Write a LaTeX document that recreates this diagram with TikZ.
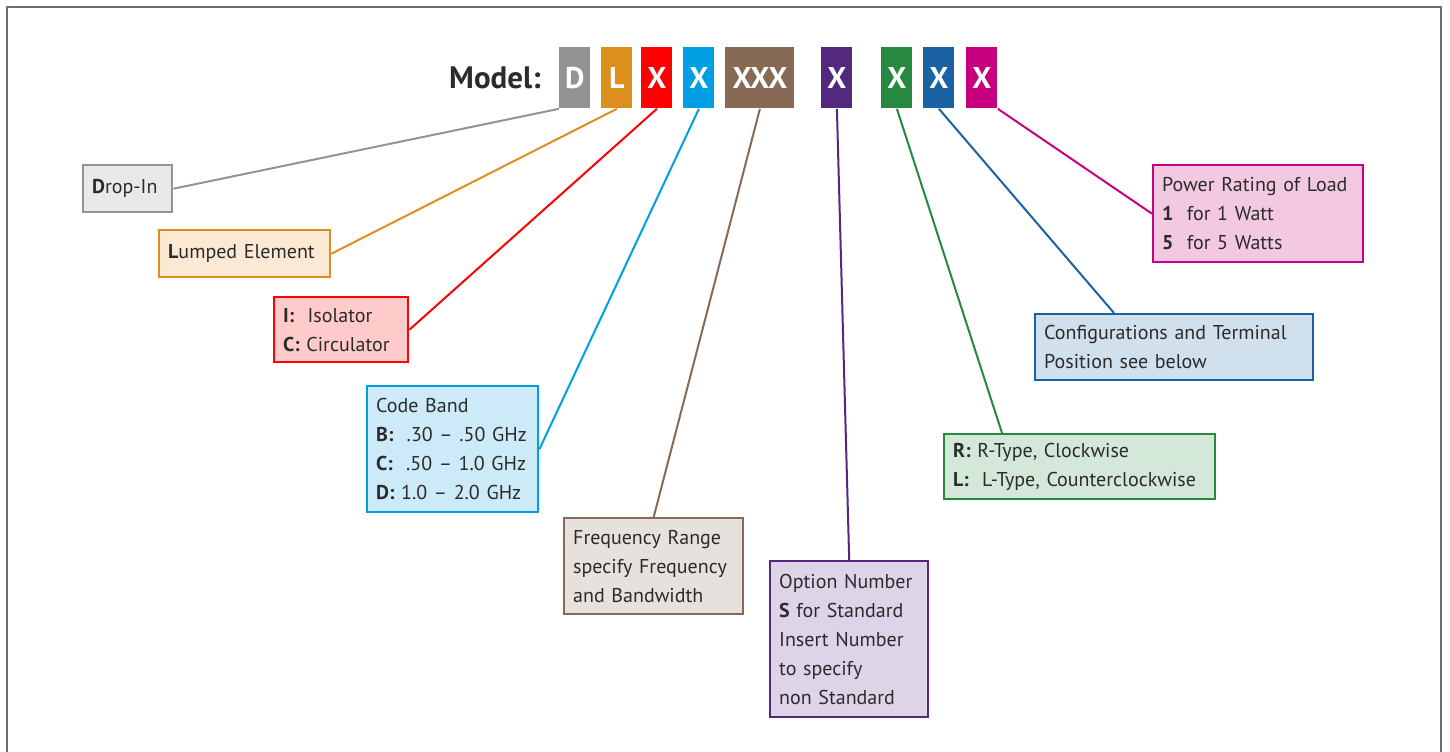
\documentclass[tikz,border=0pt]{standalone}
\usepackage{fontspec}
\setmainfont{PT Sans}
\usepackage{tikz}

\definecolor{framegray}{HTML}{6D6E71}
\definecolor{textgray}{HTML}{2B2B2B}
\definecolor{dGray}{HTML}{939393}    \definecolor{dFill}{HTML}{E9E9E9}
\definecolor{lOrange}{HTML}{DC8F1F}  \definecolor{lFill}{HTML}{FBE9D3}
\definecolor{iRed}{HTML}{FF0000}     \definecolor{iFill}{HTML}{FFCACA}
\definecolor{bCyan}{HTML}{009FE3}    \definecolor{bFill}{HTML}{CCEAF8}
\definecolor{fBrown}{HTML}{876A55}   \definecolor{fFill}{HTML}{E7E1DD}
\definecolor{oPurple}{HTML}{53287F}  \definecolor{oFill}{HTML}{DDD4E8}
\definecolor{tGreen}{HTML}{26893F}   \definecolor{tFill}{HTML}{D3E8D9}
\definecolor{cBlue}{HTML}{1A62A1}    \definecolor{cFill}{HTML}{D1E0ED}
\definecolor{pMagenta}{HTML}{C6007E} \definecolor{pFill}{HTML}{F3C9E1}

\begin{document}
\begin{tikzpicture}
        [x=0.5pt,y=-0.5pt,
         letter/.style={fill=#1,text=white,font=\bfseries\fontsize{15}{15}\selectfont,
           minimum width=15.5pt,minimum height=30.5pt,inner sep=0pt,anchor=north west},
         callout/.style 2 args={draw=#1,fill=#2,line width=1.2pt,anchor=north west,
           align=left,inner xsep=4.5pt,inner ysep=2pt,text=textgray,
           font=\fontsize{10}{14.5}\selectfont,
           execute at begin node={\hyphenpenalty=10000}},
         wire/.style={draw=#1,line width=1pt}]
        \useasboundingbox (0,0) rectangle (1450,751);
        \draw[framegray,line width=1.1pt] (7,760) -- (7,7) -- (1441,7) -- (1441,760);

        % model code
        \node (model) [anchor=base east,text=textgray,inner sep=0pt,
          font=\bfseries\fontsize{15.5}{15.5}\selectfont] at (541,88) {Model:};
        \node (mD) [letter=dGray] at (559,47) {D};
        \node (mL) [letter=lOrange] at (601,47) {L};
        \node (mI) [letter=iRed] at (641,47) {X};
        \node (mB) [letter=bCyan] at (683,47) {X};
        \node (mF) [letter=fBrown,minimum width=34.5pt] at (725,47) {XXX};
        \node (mO) [letter=oPurple] at (821,47) {X};
        \node (mT) [letter=tGreen] at (881,47) {X};
        \node (mC) [letter=cBlue] at (923,47) {X};
        \node (mP) [letter=pMagenta] at (966,47) {X};

        % callouts
        \node (cD) [callout={dGray}{dFill},text width=35.5pt,minimum height=23.5pt] at (82,164)
          {\textbf{D}rop-In};
        \node (cL) [callout={lOrange}{lFill},text width=76.5pt,minimum height=23.5pt] at (158,229)
          {\textbf{L}umped Element};
        \node (cI) [callout={iRed}{iFill},text width=58pt,minimum height=32.5pt] at (273,296)
          {\textbf{I:}\ \ Isolator\\\textbf{C:} Circulator};
        \node (cB) [callout={bCyan}{bFill},text width=76.5pt,minimum height=63pt] at (366,385)
          {Code Band\\\textbf{B:}\ \ .30 – .50 GHz\\\textbf{C:}\ \ .50 – 1.0 GHz\\\textbf{D:} 1.0 – 2.0 GHz};
        \node (cF) [callout={fBrown}{fFill},text width=80.5pt,minimum height=48pt] at (563,517)
          {Frequency Range\\specify Frequency\\and Bandwidth};
        \node (cO) [callout={oPurple}{oFill},text width=70pt,minimum height=78pt] at (769,560)
          {Option Number\\\textbf{S} for Standard\\Insert Number\\to specify\\non Standard};
        \node (cT) [callout={tGreen}{tFill},text width=126.5pt,minimum height=32.5pt] at (943,433)
          {\textbf{R:} R-Type, Clockwise\\\textbf{L:}\ \ L-Type, Counterclockwise};
        \node (cC) [callout={cBlue}{cFill},text width=130pt,minimum height=33pt] at (1034,313)
          {Configurations and Terminal\\Position see below};
        \node (cP) [callout={pMagenta}{pFill},text width=96pt,minimum height=48.5pt] at (1152,164)
          {Power Rating of Load\\\textbf{1}\ \ for 1 Watt\\\textbf{5}\ \ for 5 Watts};

        % leader lines
        \draw [wire=dGray] (cD.east) -- (mD.south west);
        \draw [wire=lOrange] (cL.east) -- (mL.south);
        \draw [wire=iRed] (cI.east) -- (mI.south);
        \draw [wire=bCyan] (cB.east) -- (mB.south);
        \draw [wire=fBrown] (cF.north) -- (mF.south);
        \draw [wire=oPurple] (cO.north) -- (mO.south);
        \draw [wire=tGreen] ([xshift=29.5pt]cT.north west) -- (mT.south);
        \draw [wire=cBlue] ([xshift=40pt]cC.north west) -- (mC.south);
        \draw [wire=pMagenta] (cP.west) -- (mP.south east);
\end{tikzpicture}
\end{document}
